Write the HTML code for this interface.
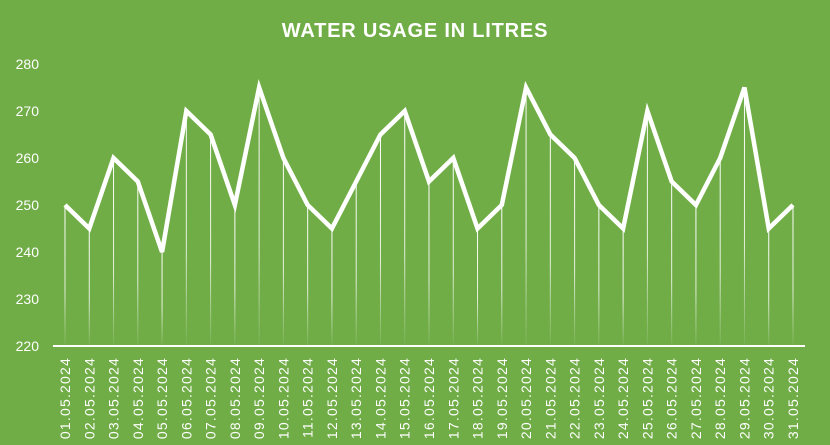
<!DOCTYPE html>
<html><head><meta charset="utf-8"><style>
body{margin:0;width:830px;height:445px;overflow:hidden;background:#70AD47}
svg{display:block;font-family:"Liberation Sans",sans-serif}
</style></head><body>
<svg id="c" width="830" height="445">
<defs><linearGradient id="fade" x1="0" y1="0" x2="0" y2="1"><stop offset="0" stop-color="#fff" stop-opacity="1"/><stop offset="0.6" stop-color="#fff" stop-opacity="0.8"/><stop offset="1" stop-color="#fff" stop-opacity="0.05"/></linearGradient></defs>
<text x="415" y="37" text-anchor="middle" fill="#fff" font-size="20" font-weight="bold" letter-spacing="0.8">WATER USAGE IN LITRES</text>
<g id="yt"></g><g id="drops"></g><g id="xl"></g>
<line x1="53" y1="346" x2="805" y2="346" stroke="#fff" stroke-width="2"/>
<path id="ln" fill="none" stroke="#fff" stroke-width="4.5" stroke-linejoin="miter"/>
</svg>
<script>
const categories=["01.05.2024","02.05.2024","03.05.2024","04.05.2024","05.05.2024","06.05.2024","07.05.2024","08.05.2024","09.05.2024","10.05.2024","11.05.2024","12.05.2024","13.05.2024","14.05.2024","15.05.2024","16.05.2024","17.05.2024","18.05.2024","19.05.2024","20.05.2024","21.05.2024","22.05.2024","23.05.2024","24.05.2024","25.05.2024","26.05.2024","27.05.2024","28.05.2024","29.05.2024","30.05.2024","31.05.2024"];
const usage=[250,245,260,255,240,270,265,250,275,260,250,245,255,265,270,255,260,245,250,275,265,260,250,245,270,255,250,260,275,245,250];
const yTicks=[220,230,240,250,260,270,280];
const NS="http://www.w3.org/2000/svg";
const y=v=>346-(v-220)*(282/60);
const x=i=>65+i*(728/(categories.length-1));
const yt=document.getElementById('yt'),dr=document.getElementById('drops'),xl=document.getElementById('xl');
yTicks.forEach(t=>{const e=document.createElementNS(NS,'text');
e.setAttribute('x',39);e.setAttribute('y',y(t)+5);e.setAttribute('text-anchor','end');e.setAttribute('fill','#fff');e.setAttribute('font-size','14');e.textContent=t;


yt.appendChild(e);});
let d='';
usage.forEach((v,i)=>{d+=(i?'L':'M')+x(i)+' '+y(v);
const l=document.createElementNS(NS,'rect');
l.setAttribute('x',x(i)-0.5);l.setAttribute('y',y(v));l.setAttribute('width',1);l.setAttribute('height',346-y(v));l.setAttribute('fill','url(#fade)');


dr.appendChild(l);
const t=document.createElementNS(NS,'text');
t.setAttribute('transform','translate('+(x(i)+5)+',357) rotate(-90)');t.setAttribute('text-anchor','end');t.setAttribute('fill','#fff');t.setAttribute('font-size','14');t.setAttribute('letter-spacing','1.2');t.textContent=categories[i];


xl.appendChild(t);});
document.getElementById('ln').setAttribute('d',d);
</script>
</body></html>
